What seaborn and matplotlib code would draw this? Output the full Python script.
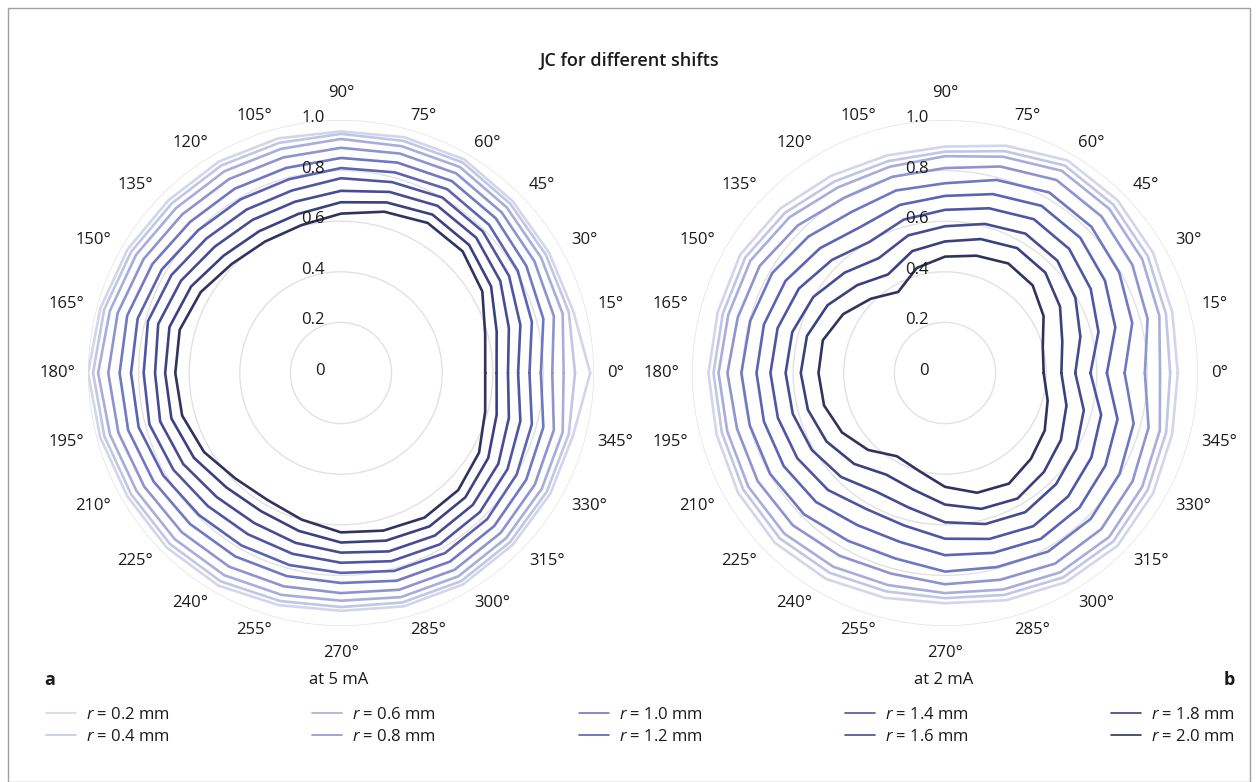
import numpy as np
import pandas as pd
import matplotlib
matplotlib.use("Agg")
import matplotlib.pyplot as plt
from matplotlib import transforms
from matplotlib.lines import Line2D
from matplotlib.patches import Rectangle
import seaborn as sns

# ---------------- data ----------------
angles_deg = [0, 15, 30, 45, 60, 75, 90, 105, 120, 135, 150, 165,
              180, 195, 210, 225, 240, 255, 270, 285, 300, 315, 330, 345]
theta_labels = ["0°", "15°", "30°", "45°", "60°", "75°", "90°", "105°", "120°", "135°", "150°", "165°",
                "180°", "195°", "210°", "225°", "240°", "255°", "270°", "285°", "300°", "315°", "330°", "345°"]
radial_values = [0, 0.2, 0.4, 0.6, 0.8, 1.0]
radial_labels = ["0", "0.2", "0.4", "0.6", "0.8", "1.0"]
shifts = ["0.2", "0.4", "0.6", "0.8", "1.0", "1.2", "1.4", "1.6", "1.8", "2.0"]

# panel a: at 5 mA
a_r02 = [0.985, 0.95, 0.95, 0.96, 0.975, 0.965, 0.955, 0.96, 0.965, 0.965, 0.975, 0.985, 1.0, 0.985, 0.975, 0.975, 0.97, 0.95, 0.94, 0.955, 0.965, 0.96, 0.955, 0.95]
a_r04 = [0.925, 0.932, 0.935, 0.946, 0.961, 0.95, 0.945, 0.942, 0.947, 0.947, 0.958, 0.969, 0.98, 0.968, 0.958, 0.956, 0.951, 0.933, 0.925, 0.939, 0.95, 0.945, 0.939, 0.932]
a_r06 = [0.88, 0.907, 0.913, 0.926, 0.94, 0.928, 0.925, 0.917, 0.921, 0.922, 0.935, 0.946, 0.96, 0.945, 0.933, 0.929, 0.923, 0.908, 0.90, 0.917, 0.928, 0.923, 0.916, 0.907]
a_r08 = [0.835, 0.871, 0.883, 0.898, 0.911, 0.898, 0.89, 0.882, 0.885, 0.887, 0.901, 0.914, 0.92, 0.911, 0.898, 0.89, 0.884, 0.873, 0.87, 0.887, 0.898, 0.893, 0.884, 0.871]
a_r10 = [0.79, 0.828, 0.846, 0.865, 0.876, 0.861, 0.85, 0.839, 0.841, 0.844, 0.861, 0.875, 0.875, 0.871, 0.856, 0.844, 0.837, 0.831, 0.83, 0.85, 0.861, 0.856, 0.845, 0.828]
a_r12 = [0.745, 0.781, 0.807, 0.828, 0.839, 0.821, 0.81, 0.793, 0.793, 0.798, 0.818, 0.832, 0.83, 0.828, 0.811, 0.794, 0.787, 0.786, 0.79, 0.81, 0.822, 0.817, 0.802, 0.781]
a_r14 = [0.70, 0.734, 0.767, 0.792, 0.801, 0.781, 0.77, 0.747, 0.746, 0.752, 0.774, 0.79, 0.78, 0.784, 0.765, 0.744, 0.736, 0.74, 0.75, 0.77, 0.782, 0.777, 0.76, 0.734]
a_r16 = [0.66, 0.687, 0.727, 0.756, 0.763, 0.741, 0.72, 0.701, 0.699, 0.706, 0.73, 0.748, 0.735, 0.74, 0.72, 0.694, 0.685, 0.695, 0.71, 0.73, 0.742, 0.737, 0.718, 0.687]
a_r18 = [0.615, 0.637, 0.685, 0.716, 0.723, 0.698, 0.675, 0.651, 0.647, 0.656, 0.684, 0.702, 0.695, 0.694, 0.671, 0.64, 0.631, 0.646, 0.67, 0.686, 0.70, 0.695, 0.672, 0.637]
a_r20 = [0.57, 0.59, 0.645, 0.68, 0.685, 0.66, 0.63, 0.605, 0.60, 0.61, 0.64, 0.66, 0.655, 0.65, 0.625, 0.59, 0.58, 0.60, 0.63, 0.645, 0.66, 0.655, 0.63, 0.59]

# panel b: at 2 mA
b_r02 = [0.92, 0.93, 0.95, 0.965, 0.97, 0.93, 0.895, 0.89, 0.90, 0.92, 0.935, 0.93, 0.935, 0.935, 0.945, 0.95, 0.94, 0.92, 0.91, 0.93, 0.955, 0.965, 0.95, 0.93]
b_r04 = [0.89, 0.904, 0.925, 0.941, 0.947, 0.908, 0.875, 0.867, 0.874, 0.895, 0.912, 0.909, 0.915, 0.913, 0.921, 0.924, 0.912, 0.894, 0.89, 0.908, 0.933, 0.941, 0.925, 0.905]
b_r06 = [0.85, 0.877, 0.90, 0.918, 0.923, 0.885, 0.857, 0.844, 0.847, 0.87, 0.888, 0.887, 0.895, 0.891, 0.898, 0.898, 0.884, 0.868, 0.87, 0.886, 0.91, 0.917, 0.90, 0.879]
b_r08 = [0.79, 0.829, 0.855, 0.875, 0.881, 0.845, 0.81, 0.803, 0.799, 0.824, 0.846, 0.848, 0.86, 0.851, 0.855, 0.851, 0.834, 0.821, 0.835, 0.846, 0.87, 0.873, 0.856, 0.833]
b_r10 = [0.71, 0.766, 0.795, 0.818, 0.824, 0.79, 0.75, 0.747, 0.736, 0.763, 0.789, 0.797, 0.805, 0.799, 0.798, 0.789, 0.766, 0.759, 0.785, 0.794, 0.815, 0.815, 0.797, 0.772]
b_r12 = [0.64, 0.697, 0.73, 0.756, 0.763, 0.732, 0.70, 0.688, 0.667, 0.698, 0.728, 0.741, 0.745, 0.741, 0.736, 0.721, 0.694, 0.691, 0.72, 0.736, 0.757, 0.752, 0.732, 0.706]
b_r14 = [0.575, 0.628, 0.665, 0.694, 0.702, 0.674, 0.645, 0.628, 0.598, 0.632, 0.667, 0.685, 0.69, 0.684, 0.674, 0.654, 0.621, 0.624, 0.655, 0.679, 0.699, 0.689, 0.668, 0.639]
b_r16 = [0.515, 0.554, 0.595, 0.628, 0.636, 0.61, 0.58, 0.563, 0.524, 0.561, 0.601, 0.625, 0.63, 0.623, 0.608, 0.581, 0.542, 0.551, 0.59, 0.618, 0.635, 0.621, 0.599, 0.568]
b_r18 = [0.46, 0.48, 0.525, 0.561, 0.57, 0.548, 0.52, 0.499, 0.45, 0.491, 0.536, 0.565, 0.57, 0.561, 0.541, 0.508, 0.464, 0.478, 0.52, 0.556, 0.573, 0.553, 0.529, 0.497]
b_r20 = [0.39, 0.40, 0.45, 0.49, 0.50, 0.48, 0.46, 0.43, 0.37, 0.415, 0.465, 0.50, 0.50, 0.495, 0.47, 0.43, 0.38, 0.40, 0.45, 0.49, 0.505, 0.48, 0.455, 0.42]

series_a = [a_r02, a_r04, a_r06, a_r08, a_r10, a_r12, a_r14, a_r16, a_r18, a_r20]
series_b = [b_r02, b_r04, b_r06, b_r08, b_r10, b_r12, b_r14, b_r16, b_r18, b_r20]

line_colors = ["#d3d6ea", "#c2c6e5", "#a8addb", "#8d94cf", "#6f78c2",
               "#5a63b4", "#4e56a4", "#454c92", "#3b4180", "#2f345f"]

# ---------------- style ----------------
sns.set_theme(style="white")
plt.rcParams['font.family'] = ['Open Sans', 'DejaVu Sans']
plt.rcParams['mathtext.fontset'] = 'custom'
plt.rcParams['mathtext.it'] = 'Open Sans:italic'
plt.rcParams['mathtext.rm'] = 'Open Sans'
TXT = "#1a1a1a"
FS = 12

W, H = 1258, 782
fig = plt.figure(figsize=(W / 100, H / 100), dpi=100)
fig.patch.set_facecolor("white")

R = 253
centers = [(341, 373), (945, 373)]


def to_df(series):
    rows = []
    for s, vals in zip(shifts, series):
        th = list(np.deg2rad(angles_deg)) + [2 * np.pi]
        rr = list(vals) + [vals[0]]
        for t, r in zip(th, rr):
            rows.append({"theta": t, "r": r, "shift": s})
    return pd.DataFrame(rows)


axes = []
for (cx, cy), series in zip(centers, [series_a, series_b]):
    ax = fig.add_axes([(cx - R) / W, (H - cy - R) / H, 2 * R / W, 2 * R / H], projection="polar")
    df = to_df(series)
    sns.lineplot(data=df, x="theta", y="r", hue="shift", palette=line_colors,
                 sort=False, estimator=None, legend=False, linewidth=1.9, ax=ax)
    ax.set_xlabel("")
    ax.set_ylabel("")
    ax.set_ylim(0, 1.0)
    ax.set_yticks(radial_values[1:])
    ax.set_yticklabels([])
    ax.set_xticks(np.deg2rad(angles_deg))
    ax.set_xticklabels([])
    ax.xaxis.grid(False)
    ax.yaxis.grid(True, color="#e2e2e2", linewidth=1.0)
    ax.spines["polar"].set_visible(False)
    ax.set_facecolor("none")
    ax.tick_params(length=0)
    for a, lbl in zip(angles_deg, theta_labels):
        c, s = np.cos(np.deg2rad(a)), np.sin(np.deg2rad(a))
        if abs(c) < 0.01:
            ha = "center"
            va = "bottom" if s > 0 else "top"
            rr = 1.075
        else:
            ha = "left" if c > 0 else "right"
            va = "center"
            rr = 1.05
        ax.text(np.deg2rad(a), rr, lbl, ha=ha, va=va, fontsize=FS,
                color=TXT, clip_on=False)
    off = transforms.offset_copy(ax.transData, fig=fig, x=-16, y=2, units="dots")
    for v, lbl in zip(radial_values, radial_labels):
        ax.text(np.pi / 2, v, lbl, transform=off, ha="right", va="center",
                fontsize=FS, color=TXT)
    axes.append(ax)

# titles and labels
fig.text(629 / W, 1 - 60 / H, "JC for different shifts", ha="center", va="center",
         fontsize=13, color=TXT, fontweight="semibold")
fig.text(339 / W, 1 - 680 / H, "at 5 mA", ha="center", va="center", fontsize=FS, color=TXT)
fig.text(944 / W, 1 - 680 / H, "at 2 mA", ha="center", va="center", fontsize=FS, color=TXT)
fig.text(50 / W, 1 - 680 / H, "a", ha="center", va="center", fontsize=13,
         fontweight="bold", color=TXT)
fig.text(1229 / W, 1 - 680 / H, "b", ha="center", va="center", fontsize=13,
         fontweight="bold", color=TXT)

# legend
handles = [Line2D([0], [0], color=c, lw=1.2) for c in line_colors]
labels = [f"$r$ = {s} mm" for s in shifts]
fig.legend(handles, labels, loc="upper left", bbox_to_anchor=(46 / W, 1 - 707 / H),
           ncol=5, frameon=False, fontsize=FS, handlelength=1.8, handletextpad=0.6,
           columnspacing=8.55, labelspacing=0.35, borderpad=0, borderaxespad=0,
           labelcolor=TXT)

# frame
fig.patches.append(Rectangle((8 / W, 0), (W - 16) / W, 1 - 8 / H, transform=fig.transFigure,
                             fill=False, edgecolor="#a0a0a0", linewidth=1.0))

fig.savefig("out.png", dpi=100, facecolor="white")
